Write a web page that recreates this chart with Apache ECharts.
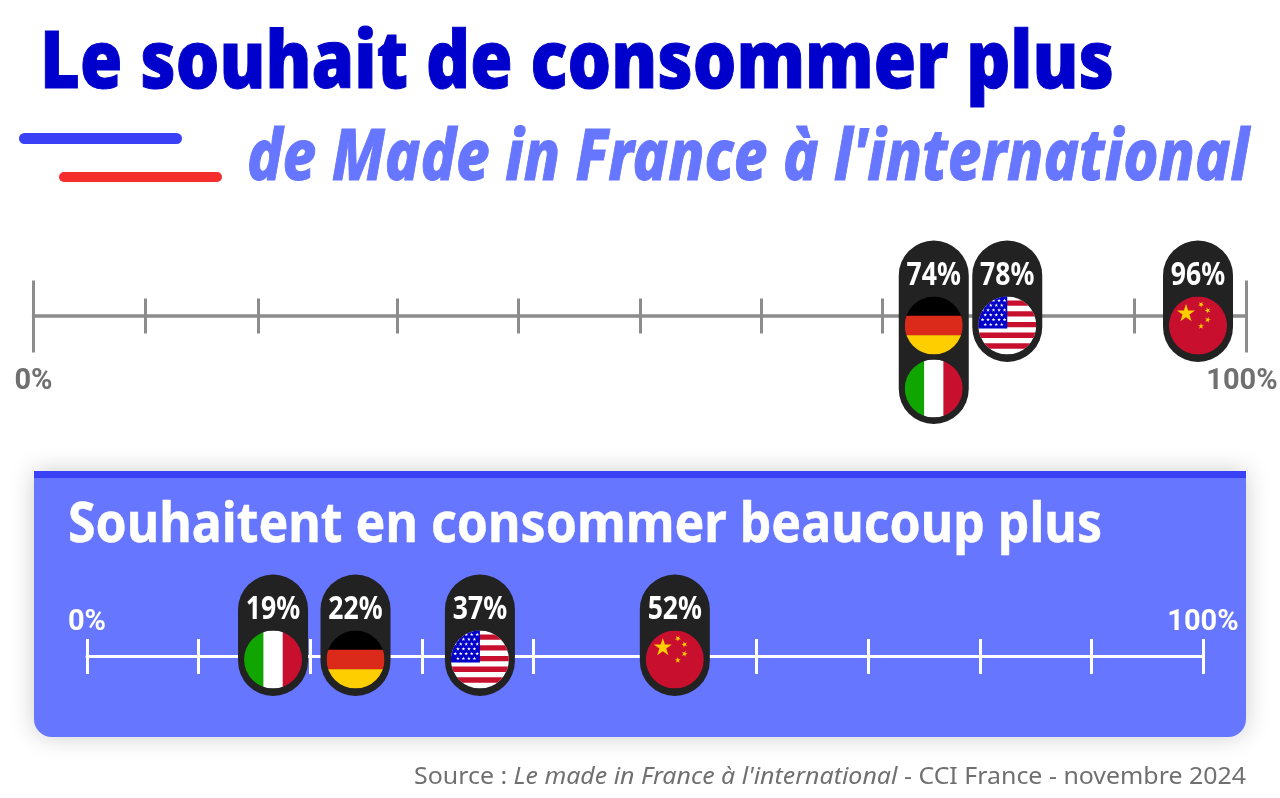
<!DOCTYPE html>
<html>
<head>
<meta charset="utf-8">
<title>Le souhait de consommer plus de Made in France</title>
<script src="https://cdn.jsdelivr.net/npm/echarts@6/dist/echarts.min.js"></script>
<style>
html,body{margin:0;padding:0;background:#fff;}
#chart{width:1280px;height:798px;}
</style>
</head>
<body>
<div id="chart"></div>
<script>
// valeurs du graphique
var topValues = [74, 78, 96];
var topFlags = [['de', 'it'], ['us'], ['cn']];
var muchValues = [19, 22, 37, 52];
var muchFlags = [['it'], ['de'], ['us'], ['cn']];
var topTicks = [0, 9.2, 18.5, 30, 40, 50, 60, 70, 80, 90.8, 100];
var muchTicks = [0, 10, 20, 30, 40, 50, 60, 70, 80, 90, 100];
var endTicks = [0, 100];

// decalage des pastilles pour qu'elles ne se chevauchent pas (px)
var topShift = [3, 28, 0.5];
var muchShift = [-26, 23, -20, 7.5];

var BLUE_DARK = '#0000cc', BLUE = '#6676ff', BLUE_LINE = '#3a40f5', RED_LINE = '#f52d2d';
var PILL = '#222222', GREY_AXIS = '#8c8c8c', GREY_TEXT = '#707070';
var RED = '#c8102e', YELLOW = '#ffce00';
var HEAD_FONT = '"Noto Sans"';
var NUM_FONT = 'Roboto';

var ctx = document.createElement('canvas').getContext('2d');
function textWidth(text, font) {
	ctx.font = font;
	return ctx.measureText(text).width;
}

function star(cx, cy, r, rot) {
	var pts = [];
	for (var i = 0; i < 10; i++) {
		var a = -Math.PI / 2 + (rot || 0) + i * Math.PI / 5;
		var rr = i % 2 ? r * 0.382 : r;
		pts.push([cx + rr * Math.cos(a), cy + rr * Math.sin(a)]);
	}
	return {type: 'polygon', shape: {points: pts}, style: {fill: '#fff'}};
}
function box(x, y, w, h, fill) {
	return {type: 'rect', shape: {x: x, y: y, width: w, height: h}, style: {fill: fill}};
}

// drapeau dans un cercle de rayon r
function flag(code, cx, cy) {
	var r = 29, kids = [], i;
	var x0 = cx - r, y0 = cy - r, d = 2 * r;
	if (code == 'de') {
		kids.push(box(x0, y0, d, d / 3 + 0.5, '#000'));
		kids.push(box(x0, y0 + d / 3, d, d / 3 + 0.5, '#dc2a1a'));
		kids.push(box(x0, y0 + 2 * d / 3, d, d / 3, YELLOW));
	} else if (code == 'it') {
		kids.push(box(x0, y0, d / 3 + 0.5, d, '#10a500'));
		kids.push(box(x0 + d / 3, y0, d / 3 + 0.5, d, '#fff'));
		kids.push(box(x0 + 2 * d / 3, y0, d / 3, d, RED));
	} else if (code == 'us') {
		kids.push(box(x0, y0, d, d, '#fff'));
		for (i = 0; i < 5; i++) {
			kids.push(box(x0, y0 + 4 + i * 10.7, d, 5.35, RED));
		}
		kids.push(box(x0, y0 - 1, d / 2, 33, '#0000c8'));
		for (var row = 0; row < 6; row++) {
			var n = row % 2 ? 4 : 5;
			for (i = 0; i < n; i++) {
				kids.push(star(x0 + (row % 2 ? 7 : 4.3) + i * 5.5, y0 + 4 + row * 4.8, 2));
			}
		}
	} else if (code == 'cn') {
		kids.push(box(x0, y0, d, d, RED));
		var big = star(cx - 12, cy - 12, 9.5);
		big.style.fill = YELLOW;
		kids.push(big);
		var small = [[3, -21, 0.6], [9.7, -15, 0.9], [9.7, -5.7, 0.3], [3, 0.7, 0]];
		for (i = 0; i < small.length; i++) {
			var s = star(cx + small[i][0], cy + small[i][1], 3.1, small[i][2]);
			s.style.fill = YELLOW;
			kids.push(s);
		}
	}
	return {type: 'group', children: kids, clipPath: {type: 'circle', shape: {cx: cx, cy: cy, r: r}}};
}

// pastille : valeur en haut, un ou deux drapeaux dessous
function pillRenderer(shifts, flags, topOffset) {
	return function (params, api) {
		var i = params.dataIndex;
		var p = api.coord([api.value(0), 0]);
		var cx = p[0] + shifts[i];
		var top = p[1] - topOffset;
		var list = flags[i];
		var h = 121.5 + (list.length - 1) * 62;
		var kids = [{
			type: 'rect',
			shape: {x: cx - 35, y: top, width: 70, height: h, r: 35},
			style: {fill: PILL}
		}, {
			type: 'text',
			x: cx, y: top + 35.5, scaleX: 0.83,
			style: {
				text: api.value(0) + '%',
				x: 0, y: 0,
				fill: '#fff',
				font: 'bold 32px ' + HEAD_FONT,
				align: 'center', verticalAlign: 'middle'
			}
		}];
		for (var k = 0; k < list.length; k++) {
			kids.push(flag(list[k], cx, top + 85 + k * 63));
		}
		return {type: 'group', children: kids};
	};
}

// texte etire/compresse pour tenir dans la largeur voulue
function fitText(text, font, x, y, width, fill, stroke) {
	var st = {text: text, x: 0, y: 0, font: font, fill: fill, align: 'left', verticalAlign: 'middle'};
	if (stroke) {
		st.stroke = fill;
		st.lineWidth = stroke;
	}
	return {type: 'text', x: x, y: y, scaleX: width / textWidth(text, font), z: 5, style: st};
}

var sourceFont = '24px ' + HEAD_FONT;
var sourceItalic = 'italic ' + sourceFont;
var src1 = 'Source : ', src2 = 'Le made in France à l\'international', src3 = ' - CCI France - novembre 2024';
var sourceScale = 832 / (textWidth(src1, sourceFont) + textWidth(src2, sourceItalic) + textWidth(src3, sourceFont));

var graphics = [
	fitText('Le souhait de consommer plus', '900 80px ' + HEAD_FONT, 40, 65, 1074, BLUE_DARK, 1),
	fitText('de Made in France à l\'international', 'italic 800 72px ' + HEAD_FONT, 247, 159, 1002, BLUE, 1),
	{type: 'rect', z: 5, shape: {x: 19, y: 133, width: 163, height: 11, r: 5.5}, style: {fill: BLUE_LINE}},
	{type: 'rect', z: 5, shape: {x: 59, y: 172, width: 163, height: 10, r: 5}, style: {fill: RED_LINE}},
	// panneau bleu
	{
		type: 'rect', z: -2,
		shape: {x: 34, y: 471, width: 1212, height: 266, r: [0, 0, 18, 18]},
		style: {fill: BLUE, shadowBlur: 24, shadowColor: 'rgba(0,0,0,0.2)', shadowOffsetY: 0}
	},
	{type: 'rect', z: -1, shape: {x: 34, y: 471, width: 1212, height: 7}, style: {fill: BLUE_LINE}},
	fitText('Souhaitent en consommer beaucoup plus', '700 56px ' + HEAD_FONT, 68, 526, 1034, '#fff', 0.5),
	{
		type: 'text', x: 414, y: 777, scaleX: sourceScale, z: 5,
		style: {
			x: 0, y: 0, align: 'left', verticalAlign: 'middle',
			text: src1 + '{i|' + src2 + '}' + src3,
			font: sourceFont, fill: GREY_TEXT,
			rich: {i: {font: sourceItalic, fill: GREY_TEXT}}
		}
	}
];

var hiddenY = function (idx) {
	return {gridIndex: idx, type: 'value', min: -1, max: 1, show: false};
};

var option = {
	animation: false,
	backgroundColor: '#fff',
	graphic: {elements: graphics},
	grid: [
		{left: 33.5, width: 1212.5, top: 298.5, height: 35, outerBoundsMode: 'none'},
		{left: 33.5, width: 1212.5, top: 280.5, height: 72, outerBoundsMode: 'none'},
		{left: 87, width: 1116, top: 639, height: 35, outerBoundsMode: 'none'},
		{left: 87, width: 1116, top: 639, height: 35, outerBoundsMode: 'none'}
	],
	xAxis: [
		// axe du haut : ligne et petites graduations
		{
			gridIndex: 0, type: 'value', min: 0, max: 100,
			axisLine: {show: true, onZero: true, lineStyle: {color: GREY_AXIS, width: 3.5}},
			axisTick: {show: false, customValues: topTicks},
			axisLabel: {show: false},
			splitLine: {show: true, lineStyle: {color: GREY_AXIS, width: 3}}
		},
		// axe du haut : grandes graduations 0 et 100
		{
			gridIndex: 1, type: 'value', min: 0, max: 100,
			axisLine: {show: false, onZero: false},
			axisTick: {show: false, customValues: endTicks},
			axisLabel: {
				show: true, customValues: endTicks, margin: 15,
				formatter: function (v) { return v == 100 ? '{e|100%}' : v + '%'; },
				color: GREY_TEXT, fontFamily: NUM_FONT, fontWeight: 'bold', fontSize: 29,
				rich: {e: {padding: [0, 8, 0, 0], color: GREY_TEXT, fontFamily: NUM_FONT, fontWeight: 'bold', fontSize: 29}}
			},
			splitLine: {show: true, lineStyle: {color: GREY_AXIS, width: 3}}
		},
		// axe du panneau
		{
			gridIndex: 2, type: 'value', min: 0, max: 100,
			axisLine: {show: true, onZero: true, lineStyle: {color: '#fff', width: 3}},
			axisTick: {show: false, customValues: muchTicks},
			axisLabel: {show: false},
			splitLine: {show: true, lineStyle: {color: '#fff', width: 3}}
		},
		{
			gridIndex: 3, type: 'value', min: 0, max: 100, position: 'top',
			axisLine: {show: false, onZero: false},
			axisTick: {show: false},
			axisLabel: {
				show: true, customValues: endTicks, margin: 2,
				formatter: '{value}%',
				color: '#fff', fontFamily: NUM_FONT, fontWeight: 'bold', fontSize: 29
			},
			splitLine: {show: false}
		}
	],
	yAxis: [hiddenY(0), hiddenY(1), hiddenY(2), hiddenY(3)],
	series: [
		{
			name: 'Souhaitent en consommer plus',
			type: 'custom', xAxisIndex: 0, yAxisIndex: 0, z: 10, clip: false,
			data: topValues,
			encode: {x: 0},
			renderItem: pillRenderer(topShift, topFlags, 75.5)
		},
		{
			name: 'Souhaitent en consommer beaucoup plus',
			type: 'custom', xAxisIndex: 2, yAxisIndex: 2, z: 10, clip: false,
			data: muchValues,
			encode: {x: 0},
			renderItem: pillRenderer(muchShift, muchFlags, 82)
		}
	]
};

var chart = echarts.init(document.getElementById('chart'));
chart.setOption(option);
</script>
</body>
</html>
